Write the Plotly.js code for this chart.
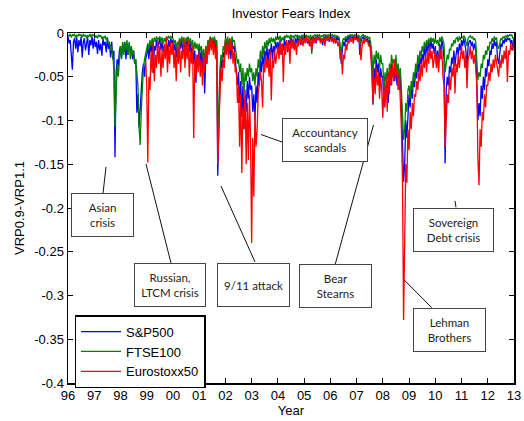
<!DOCTYPE html>
<html><head><meta charset="utf-8">
<script src="https://cdn.plot.ly/plotly-3.0.1.min.js"></script>
<style>html,body{margin:0;padding:0;background:#fff;}#chart{width:524px;height:421px;}</style>
</head><body><div id="chart"></div>
<script>
// Sampling grid: two readings per month
const startYear = 1996;
const stepsPerYear = 24;
const euroStartYear = 1998 + 23 / 24;

// S&P500 (one line per year, 1996..2012, then 2013-01)
const spx500 = [
-0.004,-0.012,-0.008,-0.030,-0.042,-0.010,-0.006,-0.018,-0.005,-0.022,-0.008,-0.015,-0.004,-0.028,-0.010,-0.006,-0.020,-0.012,-0.005,-0.025,-0.008,-0.014,-0.004,-0.018,
-0.006,-0.016,-0.010,-0.024,-0.008,-0.020,-0.012,-0.026,-0.006,-0.014,-0.010,-0.022,-0.005,-0.018,-0.012,-0.028,-0.010,-0.030,-0.020,-0.142,-0.045,-0.030,-0.038,-0.020,
-0.015,-0.028,-0.012,-0.022,-0.010,-0.030,-0.015,-0.025,-0.012,-0.020,-0.018,-0.030,-0.020,-0.035,-0.030,-0.091,-0.070,-0.108,-0.085,-0.060,-0.045,-0.035,-0.050,-0.030,
-0.025,-0.015,-0.030,-0.012,-0.022,-0.010,-0.046,-0.015,-0.020,-0.008,-0.018,-0.012,-0.006,-0.020,-0.010,-0.022,-0.014,-0.028,-0.012,-0.022,-0.008,-0.016,-0.006,-0.012,
-0.008,-0.020,-0.012,-0.028,-0.015,-0.030,-0.010,-0.018,-0.006,-0.022,-0.012,-0.020,-0.008,-0.016,-0.005,-0.022,-0.010,-0.028,-0.015,-0.035,-0.020,-0.057,-0.025,-0.032,
-0.015,-0.035,-0.020,-0.040,-0.025,-0.069,-0.028,-0.035,-0.012,-0.020,-0.008,-0.016,-0.008,-0.015,-0.006,-0.020,-0.010,-0.163,-0.085,-0.055,-0.030,-0.040,-0.022,-0.028,
-0.010,-0.020,-0.006,-0.025,-0.012,-0.030,-0.008,-0.018,-0.015,-0.030,-0.040,-0.060,-0.045,-0.080,-0.055,-0.096,-0.060,-0.110,-0.070,-0.090,-0.055,-0.075,-0.050,-0.065,
-0.060,-0.090,-0.070,-0.100,-0.060,-0.080,-0.045,-0.060,-0.030,-0.045,-0.025,-0.040,-0.020,-0.030,-0.015,-0.035,-0.018,-0.025,-0.012,-0.030,-0.015,-0.022,-0.010,-0.018,
-0.010,-0.018,-0.008,-0.025,-0.012,-0.020,-0.006,-0.015,-0.010,-0.022,-0.008,-0.014,-0.005,-0.012,-0.008,-0.018,-0.006,-0.012,-0.004,-0.010,-0.006,-0.014,-0.004,-0.008,
-0.004,-0.010,-0.003,-0.012,-0.006,-0.015,-0.004,-0.008,-0.003,-0.010,-0.005,-0.012,-0.003,-0.008,-0.004,-0.010,-0.006,-0.014,-0.004,-0.009,-0.003,-0.007,-0.004,-0.010,
-0.003,-0.008,-0.004,-0.010,-0.005,-0.012,-0.004,-0.008,-0.006,-0.025,-0.035,-0.018,-0.010,-0.015,-0.006,-0.010,-0.004,-0.008,-0.003,-0.006,-0.004,-0.008,-0.003,-0.006,
-0.004,-0.008,-0.003,-0.025,-0.010,-0.006,-0.004,-0.008,-0.005,-0.010,-0.006,-0.012,-0.008,-0.020,-0.035,-0.082,-0.040,-0.055,-0.030,-0.045,-0.035,-0.060,-0.040,-0.050,
-0.050,-0.085,-0.060,-0.070,-0.055,-0.080,-0.045,-0.060,-0.035,-0.050,-0.040,-0.055,-0.035,-0.060,-0.045,-0.065,-0.050,-0.080,-0.130,-0.170,-0.150,-0.100,-0.120,-0.090,
-0.070,-0.085,-0.060,-0.075,-0.050,-0.062,-0.042,-0.052,-0.032,-0.045,-0.028,-0.036,-0.024,-0.032,-0.016,-0.028,-0.012,-0.024,-0.010,-0.020,-0.008,-0.018,-0.012,-0.024,
-0.015,-0.035,-0.020,-0.040,-0.012,-0.025,-0.008,-0.015,-0.030,-0.149,-0.065,-0.050,-0.060,-0.038,-0.045,-0.028,-0.035,-0.020,-0.038,-0.025,-0.016,-0.025,-0.012,-0.020,
-0.008,-0.015,-0.006,-0.012,-0.020,-0.040,-0.015,-0.010,-0.008,-0.015,-0.010,-0.020,-0.012,-0.018,-0.060,-0.100,-0.080,-0.095,-0.060,-0.075,-0.050,-0.065,-0.040,-0.050,
-0.030,-0.038,-0.020,-0.025,-0.012,-0.018,-0.008,-0.015,-0.010,-0.030,-0.035,-0.020,-0.012,-0.016,-0.008,-0.012,-0.006,-0.010,-0.005,-0.008,-0.006,-0.012,-0.008,-0.020,
-0.005
];

// FTSE100
const ftse100 = [
-0.002,-0.004,-0.001,-0.005,-0.002,-0.003,-0.001,-0.006,-0.002,-0.004,-0.001,-0.003,-0.002,-0.005,-0.001,-0.004,-0.002,-0.006,-0.003,-0.004,-0.001,-0.005,-0.002,-0.003,
-0.002,-0.005,-0.003,-0.006,-0.002,-0.004,-0.003,-0.007,-0.004,-0.006,-0.003,-0.008,-0.006,-0.012,-0.010,-0.020,-0.015,-0.030,-0.040,-0.107,-0.055,-0.035,-0.050,-0.030,
-0.015,-0.030,-0.010,-0.025,-0.012,-0.020,-0.008,-0.025,-0.010,-0.030,-0.015,-0.025,-0.020,-0.035,-0.030,-0.045,-0.060,-0.107,-0.128,-0.090,-0.060,-0.040,-0.030,-0.025,
-0.020,-0.012,-0.018,-0.008,-0.015,-0.006,-0.012,-0.005,-0.010,-0.004,-0.008,-0.006,-0.004,-0.010,-0.005,-0.012,-0.006,-0.010,-0.004,-0.008,-0.003,-0.006,-0.004,-0.005,
-0.006,-0.012,-0.008,-0.018,-0.010,-0.015,-0.006,-0.012,-0.004,-0.010,-0.006,-0.014,-0.005,-0.010,-0.004,-0.012,-0.006,-0.015,-0.008,-0.020,-0.010,-0.018,-0.012,-0.020,
-0.012,-0.020,-0.015,-0.028,-0.018,-0.035,-0.015,-0.022,-0.008,-0.012,-0.004,-0.010,-0.005,-0.010,-0.004,-0.012,-0.008,-0.120,-0.060,-0.040,-0.025,-0.030,-0.015,-0.020,
-0.006,-0.012,-0.004,-0.015,-0.006,-0.018,-0.004,-0.010,-0.008,-0.015,-0.025,-0.035,-0.030,-0.045,-0.035,-0.060,-0.040,-0.070,-0.045,-0.055,-0.040,-0.050,-0.035,-0.045,
-0.040,-0.055,-0.045,-0.060,-0.040,-0.050,-0.030,-0.040,-0.020,-0.030,-0.015,-0.025,-0.010,-0.018,-0.008,-0.015,-0.006,-0.012,-0.005,-0.010,-0.006,-0.012,-0.004,-0.008,
-0.004,-0.008,-0.003,-0.010,-0.005,-0.008,-0.003,-0.006,-0.002,-0.005,-0.003,-0.007,-0.002,-0.005,-0.003,-0.006,-0.002,-0.004,-0.002,-0.005,-0.003,-0.006,-0.002,-0.004,
-0.002,-0.004,-0.002,-0.005,-0.003,-0.006,-0.002,-0.024,-0.004,-0.003,-0.002,-0.004,-0.002,-0.003,-0.002,-0.005,-0.003,-0.004,-0.002,-0.003,-0.002,-0.004,-0.002,-0.003,
-0.002,-0.003,-0.002,-0.004,-0.002,-0.005,-0.003,-0.004,-0.005,-0.015,-0.022,-0.010,-0.006,-0.008,-0.004,-0.006,-0.003,-0.004,-0.002,-0.003,-0.002,-0.004,-0.002,-0.003,
-0.002,-0.004,-0.002,-0.012,-0.004,-0.003,-0.002,-0.004,-0.003,-0.005,-0.004,-0.006,-0.005,-0.012,-0.025,-0.050,-0.025,-0.035,-0.020,-0.030,-0.022,-0.040,-0.025,-0.035,
-0.035,-0.065,-0.045,-0.055,-0.040,-0.060,-0.035,-0.045,-0.025,-0.035,-0.030,-0.040,-0.025,-0.045,-0.035,-0.050,-0.040,-0.065,-0.100,-0.122,-0.110,-0.080,-0.090,-0.065,
-0.060,-0.075,-0.055,-0.065,-0.045,-0.055,-0.035,-0.045,-0.025,-0.035,-0.020,-0.028,-0.015,-0.022,-0.010,-0.018,-0.008,-0.014,-0.006,-0.012,-0.005,-0.010,-0.006,-0.012,
-0.006,-0.012,-0.008,-0.015,-0.005,-0.010,-0.004,-0.008,-0.012,-0.045,-0.030,-0.025,-0.030,-0.018,-0.020,-0.012,-0.015,-0.008,-0.012,-0.006,-0.005,-0.010,-0.004,-0.008,
-0.004,-0.006,-0.003,-0.005,-0.010,-0.015,-0.006,-0.004,-0.003,-0.006,-0.004,-0.008,-0.006,-0.010,-0.035,-0.054,-0.045,-0.050,-0.035,-0.040,-0.025,-0.030,-0.020,-0.025,
-0.015,-0.020,-0.010,-0.012,-0.006,-0.010,-0.004,-0.008,-0.005,-0.015,-0.018,-0.010,-0.006,-0.008,-0.004,-0.006,-0.003,-0.005,-0.002,-0.004,-0.002,-0.003,-0.002,-0.006,
-0.008
];

// Eurostoxx50 (starts late 1998)
const eurostoxx50 = [
-0.030,
-0.060,-0.148,-0.050,-0.065,-0.020,-0.045,-0.010,-0.055,-0.025,-0.040,-0.008,-0.035,-0.015,-0.050,-0.020,-0.040,-0.012,-0.030,-0.005,-0.045,-0.015,-0.035,-0.010,-0.025,
-0.010,-0.040,-0.020,-0.055,-0.015,-0.035,-0.008,-0.045,-0.020,-0.030,-0.005,-0.040,-0.012,-0.030,-0.008,-0.050,-0.020,-0.035,-0.015,-0.120,-0.030,-0.050,-0.025,-0.045,
-0.020,-0.050,-0.030,-0.060,-0.025,-0.045,-0.015,-0.035,-0.010,-0.025,-0.005,-0.020,-0.008,-0.025,-0.010,-0.030,-0.015,-0.150,-0.090,-0.070,-0.040,-0.055,-0.030,-0.040,
-0.008,-0.025,-0.010,-0.030,-0.006,-0.020,-0.012,-0.035,-0.020,-0.045,-0.040,-0.080,-0.060,-0.130,-0.070,-0.160,-0.085,-0.110,-0.065,-0.150,-0.080,-0.145,-0.070,-0.120,
-0.240,-0.120,-0.187,-0.090,-0.130,-0.111,-0.070,-0.060,-0.045,-0.055,-0.085,-0.035,-0.045,-0.025,-0.040,-0.030,-0.050,-0.020,-0.077,-0.030,-0.040,-0.020,-0.035,-0.025,
-0.015,-0.030,-0.010,-0.025,-0.012,-0.056,-0.015,-0.025,-0.008,-0.020,-0.010,-0.035,-0.008,-0.018,-0.006,-0.020,-0.010,-0.025,-0.008,-0.015,-0.005,-0.012,-0.006,-0.015,
-0.005,-0.012,-0.004,-0.010,-0.006,-0.015,-0.008,-0.020,-0.006,-0.012,-0.004,-0.010,-0.005,-0.008,-0.004,-0.012,-0.006,-0.010,-0.004,-0.015,-0.005,-0.009,-0.004,-0.008,
-0.004,-0.010,-0.005,-0.012,-0.006,-0.010,-0.008,-0.015,-0.010,-0.030,-0.020,-0.047,-0.025,-0.030,-0.012,-0.020,-0.008,-0.012,-0.005,-0.010,-0.006,-0.012,-0.004,-0.008,
-0.005,-0.010,-0.006,-0.012,-0.031,-0.015,-0.008,-0.012,-0.006,-0.010,-0.008,-0.015,-0.012,-0.025,-0.045,-0.080,-0.050,-0.070,-0.040,-0.060,-0.045,-0.075,-0.050,-0.065,
-0.097,-0.060,-0.085,-0.050,-0.090,-0.045,-0.070,-0.040,-0.060,-0.035,-0.055,-0.030,-0.050,-0.040,-0.065,-0.045,-0.075,-0.110,-0.170,-0.328,-0.237,-0.150,-0.171,-0.110,
-0.134,-0.090,-0.110,-0.080,-0.095,-0.070,-0.073,-0.055,-0.065,-0.045,-0.055,-0.035,-0.050,-0.030,-0.040,-0.025,-0.045,-0.020,-0.035,-0.015,-0.030,-0.020,-0.040,-0.025,
-0.020,-0.040,-0.025,-0.045,-0.015,-0.030,-0.020,-0.050,-0.060,-0.130,-0.085,-0.070,-0.080,-0.050,-0.065,-0.040,-0.050,-0.030,-0.069,-0.035,-0.045,-0.025,-0.040,-0.030,
-0.015,-0.030,-0.020,-0.040,-0.025,-0.063,-0.030,-0.025,-0.015,-0.030,-0.020,-0.035,-0.025,-0.040,-0.060,-0.145,-0.174,-0.110,-0.130,-0.090,-0.100,-0.070,-0.085,-0.060,
-0.060,-0.045,-0.055,-0.035,-0.045,-0.030,-0.040,-0.025,-0.035,-0.045,-0.050,-0.030,-0.040,-0.025,-0.035,-0.020,-0.030,-0.015,-0.056,-0.020,-0.025,-0.012,-0.020,-0.015,
-0.010
];

const seriesNames = ['S&P500', 'FTSE100', 'Eurostoxx50'];
const xTickVals = [1996,1997,1998,1999,2000,2001,2002,2003,2004,2005,2006,2007,2008,2009,2010,2011,2012,2013];
const xTickText = ['96','97','98','99','00','01','02','03','04','05','06','07','08','09','10','11','12','13'];
const yTickVals = [0,-0.05,-0.1,-0.15,-0.2,-0.25,-0.3,-0.35,-0.4];
const yTickText = ['0','-0.05','-0.1','-0.15','-0.2','-0.25','-0.3','-0.35','-0.4'];
const eventLabels = ['Asian<br>crisis','Russian,<br>LTCM crisis','9/11 attack','Accountancy<br>scandals','Bear<br>Stearns','Sovereign<br>Debt crisis','Lehman<br>Brothers'];

// ---- layout / styling ----
const colors = ['#0000ff', '#008000', '#ff0000'];
const timeAxis = (vals, start) => vals.map((_, i) => start + i / stepsPerYear);
const traces = [
  {x: timeAxis(spx500, startYear), y: spx500, name: seriesNames[0]},
  {x: timeAxis(ftse100, startYear), y: ftse100, name: seriesNames[1]},
  {x: timeAxis(eurostoxx50, euroStartYear), y: eurostoxx50, name: seriesNames[2]}
].map((t, i) => Object.assign(t, {type: 'scatter', mode: 'lines', line: {color: colors[i], width: 1.3}}));

// box centres and connector lines (data coordinates)
const eventBoxes = [
  {cx: 1997.315, cy: -0.208, w: 63, line: [1997.334, -0.1834, 1997.448, -0.1531]},
  {cx: 1999.888, cy: -0.288, w: 72, line: [1999.926, -0.2629, 1998.973, -0.1497]},
  {cx: 2003.071, cy: -0.288, w: 73, line: [2003.128, -0.2617, 2001.832, -0.1749]},
  {cx: 2005.777, cy: -0.1223, w: 86, line: [2004.157, -0.1246, 2003.357, -0.1160]},
  {cx: 2006.177, cy: -0.2895, w: 73, line: [2006.188, -0.2640, 2007.645, -0.1051]},
  {cx: 2010.683, cy: -0.2246, w: 81, line: [2010.789, -0.1992, 2010.751, -0.1920]},
  {cx: 2010.530, cy: -0.3394, w: 73, line: [2009.863, -0.3139, 2008.819, -0.2823]}
];
const boxFont = {family: 'Lato, "Open Sans", sans-serif', size: 11.5, color: '#222'};
const annotations = eventBoxes.map((b, i) => ({
  x: b.cx, y: b.cy, xref: 'x', yref: 'y', text: eventLabels[i], showarrow: false,
  width: b.w - 2, height: 42, borderpad: 0, bgcolor: '#fff',
  bordercolor: '#444', borderwidth: 1, font: boxFont, align: 'center', valign: 'middle'
}));
const shapes = eventBoxes.map(b => ({
  type: 'line', xref: 'x', yref: 'y', x0: b.line[0], y0: b.line[1], x1: b.line[2], y1: b.line[3],
  line: {color: '#111', width: 1}, layer: 'above'
}));

const axisFont = {family: '"Liberation Sans", Arial, sans-serif', size: 13, color: '#000'};
const layout = {
  width: 524, height: 421,
  margin: {l: 68, r: 10, t: 33, b: 38},
  paper_bgcolor: '#fff', plot_bgcolor: '#fff',
  font: axisFont,
  showlegend: true,
  title: {text: 'Investor Fears Index', font: axisFont, x: 0.5, xref: 'paper', xanchor: 'center',
          y: 1 - 13 / 421, yref: 'container', yanchor: 'middle'},
  xaxis: {range: [1996, 2013], tickvals: xTickVals, ticktext: xTickText, ticks: 'inside', ticklen: 5,
          tickcolor: '#000', showline: true, linecolor: '#000', linewidth: 1.5, mirror: 'allticks',
          showgrid: false, zeroline: false, tickfont: axisFont,
          title: {text: 'Year', font: axisFont, standoff: 4}},
  yaxis: {range: [-0.4, 0], tickvals: yTickVals, ticktext: yTickText, ticks: 'inside', ticklen: 5,
          tickcolor: '#000', showline: true, linecolor: '#000', linewidth: 1.5, mirror: 'allticks',
          showgrid: false, zeroline: false, tickfont: axisFont,
          title: {text: 'VRP0.9-VRP1.1', font: axisFont, standoff: 6}},
  legend: {x: 0.0146, y: 0.194, xanchor: 'left', yanchor: 'top', bgcolor: '#fff',
           bordercolor: '#000', borderwidth: 1.5, font: axisFont, itemwidth: 40, tracegroupgap: 0},
  annotations: annotations,
  shapes: shapes
};
Plotly.newPlot('chart', traces, layout, {staticPlot: true, displayModeBar: false});
</script>
</body></html>
